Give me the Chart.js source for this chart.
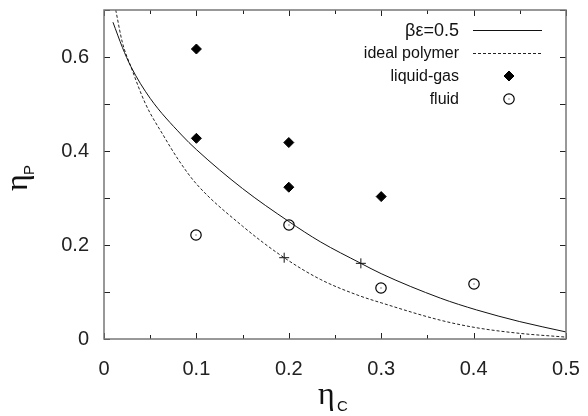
<!DOCTYPE html>
<html>
<head>
<meta charset="utf-8">
<script src="https://cdn.jsdelivr.net/npm/chart.js@4/dist/chart.umd.min.js"></script>
<style>
  html, body { margin: 0; padding: 0; background: #fff; }
  #wrap { width: 588px; height: 416px; }
</style>
</head>
<body>
<div id="wrap"><canvas id="chart-phase"></canvas></div>
<script>
'use strict';
// curve beta*eps = 0.5
var solidX = [0.0097, 0.02, 0.029, 0.05, 0.084, 0.1, 0.15, 0.2, 0.234, 0.278, 0.3, 0.364, 0.403, 0.45, 0.5];
var solidY = [0.674, 0.62, 0.58, 0.512, 0.434, 0.403, 0.32, 0.25, 0.207, 0.161, 0.139, 0.087, 0.062, 0.037, 0.015];
// ideal polymer curve
var dashedX = [0.0127, 0.02, 0.029, 0.045, 0.064, 0.082, 0.1, 0.15, 0.195, 0.234, 0.275, 0.3, 0.364, 0.403, 0.45, 0.5];
var dashedY = [0.7, 0.63, 0.58, 0.5, 0.434, 0.377, 0.33, 0.24, 0.173, 0.127, 0.093, 0.077, 0.040, 0.024, 0.012, 0.004];
// simulation points
var liquidGasX = [0.1, 0.1, 0.2, 0.2, 0.3];
var liquidGasY = [0.617, 0.427, 0.418, 0.323, 0.303];
var fluidX = [0.1, 0.2, 0.3, 0.4];
var fluidY = [0.222, 0.243, 0.109, 0.117];
var crossX = [0.195, 0.278];
var crossY = [0.173, 0.161];
// ticks
var xTicks = [0, 0.1, 0.2, 0.3, 0.4, 0.5];
var yTicks = [0, 0.2, 0.4, 0.6];
var legendLabels = ['\u03b2\u03b5=0.5', 'ideal polymer', 'liquid-gas', 'fluid'];

function toPoints(xs, ys) {
  var pts = [];
  for (var i = 0; i < xs.length; i++) pts.push({x: xs[i], y: ys[i]});
  return pts;
}

// circle with a dot in the middle, like gnuplot's point type 6
function makeDotCircle() {
  var c = document.createElement('canvas');
  c.width = 14; c.height = 14;
  var g = c.getContext('2d');
  g.strokeStyle = '#000';
  g.lineWidth = 1.2;
  g.beginPath();
  g.arc(7, 7, 5.2, 0, 2 * Math.PI);
  g.stroke();
  g.fillStyle = '#222';
  g.fillRect(6.5, 6.5, 1, 1);
  return c;
}
var dotCircle = makeDotCircle();

var FONT = '"Liberation Sans", Arial, Helvetica, sans-serif';
var SERIF = '"Liberation Serif", "Times New Roman", serif';

// box with inward ticks on all four sides, plus axis titles
var framePlugin = {
  id: 'frame',
  beforeDatasetsDraw: function(chart) {
    chart.ctx.imageSmoothingEnabled = false; // keep the circle markers crisp
  },
  afterDraw: function(chart) {
    var ctx = chart.ctx, a = chart.chartArea;
    var xs = chart.scales.x, ys = chart.scales.y;
    ctx.save();
    ctx.strokeStyle = '#222';
    ctx.lineWidth = 1;
    var v, p, len;
    for (v = 0; v <= 10; v++) {
      p = Math.round(xs.getPixelForValue(v * 0.05)) + 0.5;
      len = v % 2 === 0 ? 6 : 4;
      ctx.beginPath();
      ctx.moveTo(p, a.bottom); ctx.lineTo(p, a.bottom - len);
      ctx.moveTo(p, a.top); ctx.lineTo(p, a.top + len);
      ctx.stroke();
    }
    for (v = 0; v <= 7; v++) {
      p = Math.round(ys.getPixelForValue(v * 0.1)) + 0.5;
      len = 6;
      ctx.beginPath();
      ctx.moveTo(a.left, p); ctx.lineTo(a.left + len, p);
      ctx.moveTo(a.right, p); ctx.lineTo(a.right - len, p);
      ctx.stroke();
    }
    ctx.strokeStyle = '#777';
    ctx.lineWidth = 1.5;
    ctx.strokeRect(a.left, a.top, a.right - a.left, a.bottom - a.top);

    // axis titles
    ctx.fillStyle = '#111';
    ctx.textBaseline = 'alphabetic';
    ctx.textAlign = 'left';
    ctx.font = '32px ' + SERIF;
    ctx.fillText('\u03b7', 318, 404);
    ctx.font = '15px ' + FONT;
    ctx.fillText('C', 337, 411);

    ctx.translate(27, 191);
    ctx.rotate(-Math.PI / 2);
    ctx.font = '32px ' + SERIF;
    ctx.fillText('\u03b7', 0, 0);
    ctx.font = '15px ' + FONT;
    ctx.fillText('P', 16, 7);
    ctx.restore();
  }
};

// legend: text right-aligned, sample on the right, inside the plot
var legendPlugin = {
  id: 'sideLegend',
  afterDraw: function(chart) {
    var ctx = chart.ctx;
    var rowY = [30, 53, 76, 99];
    var textRight = 459, lineL = 473, lineR = 542, mid = 509;
    ctx.save();
    ctx.fillStyle = '#111';
    ctx.textAlign = 'right';
    ctx.textBaseline = 'middle';
    for (var i = 0; i < legendLabels.length; i++) {
      var ds = chart.data.datasets[i];
      var y = rowY[i];
      ctx.font = (i === 0 ? '18px ' : '16px ') + FONT;
      ctx.fillText(legendLabels[i], textRight, y + 1);
      ctx.save();
      if (ds.showLine) {
        ctx.strokeStyle = ds.borderColor;
        ctx.lineWidth = ds.borderWidth;
        ctx.setLineDash(ds.borderDash || []);
        ctx.beginPath();
        ctx.moveTo(lineL, y + 0.5); ctx.lineTo(lineR, y + 0.5);
        ctx.stroke();
      } else {
        ctx.fillStyle = ds.backgroundColor;
        ctx.strokeStyle = ds.borderColor;
        ctx.lineWidth = ds.borderWidth;
        Chart.helpers.drawPoint(ctx, {
          pointStyle: ds.pointStyle, radius: ds.pointRadius, borderWidth: ds.borderWidth, rotation: 0
        }, mid, y);
      }
      ctx.restore();
    }
    ctx.restore();
  }
};

function noPadding(scale) {
  scale.paddingTop = 0; scale.paddingBottom = 0;
  scale.paddingLeft = 0; scale.paddingRight = 0;
}

var ctx = document.getElementById('chart-phase').getContext('2d');
var phaseChart = new Chart(ctx, {
  type: 'scatter',
  data: {
    datasets: [{
      label: legendLabels[0],
      data: toPoints(solidX, solidY),
      showLine: true,
      borderColor: '#111',
      borderWidth: 1,
      pointRadius: 0,
      cubicInterpolationMode: 'monotone'
    }, {
      label: legendLabels[1],
      data: toPoints(dashedX, dashedY),
      showLine: true,
      borderColor: '#222',
      borderWidth: 1,
      borderDash: [3, 2],
      pointRadius: 0,
      cubicInterpolationMode: 'monotone'
    }, {
      label: legendLabels[2],
      data: toPoints(liquidGasX, liquidGasY),
      pointStyle: 'rectRot',
      pointRadius: 5,
      backgroundColor: '#000',
      borderColor: '#000',
      borderWidth: 1
    }, {
      label: legendLabels[3],
      data: toPoints(fluidX, fluidY),
      pointStyle: dotCircle,
      pointRadius: 6,
      backgroundColor: 'rgba(0,0,0,0)',
      borderColor: '#000',
      borderWidth: 1
    }, {
      label: 'crossing',
      data: toPoints(crossX, crossY),
      pointStyle: 'cross',
      pointRadius: 5,
      borderColor: '#111',
      borderWidth: 1
    }]
  },
  options: {
    responsive: true,
    maintainAspectRatio: false,
    animation: false,
    layout: { padding: { left: 0, right: 22, top: 10, bottom: 0 } },
    plugins: { legend: { display: false }, tooltip: { enabled: false } },
    scales: {
      x: {
        type: 'linear', min: 0, max: 0.5,
        grid: { display: false, drawTicks: false },
        border: { display: false },
        afterBuildTicks: function(scale) { scale.ticks = xTicks.map(function(v) { return {value: v}; }); },
        afterFit: function(scale) { scale.height = 77; noPadding(scale); },
        ticks: { padding: 18, color: '#222', font: { family: FONT, size: 20 }, maxRotation: 0 }
      },
      y: {
        type: 'linear', min: 0, max: 0.7,
        grid: { display: false, drawTicks: false },
        border: { display: false },
        afterBuildTicks: function(scale) { scale.ticks = yTicks.map(function(v) { return {value: v}; }); },
        afterFit: function(scale) { scale.width = 104; noPadding(scale); },
        ticks: { padding: 15, color: '#222', font: { family: FONT, size: 20 } }
      }
    }
  },
  plugins: [framePlugin, legendPlugin]
});
</script>
</body>
</html>
